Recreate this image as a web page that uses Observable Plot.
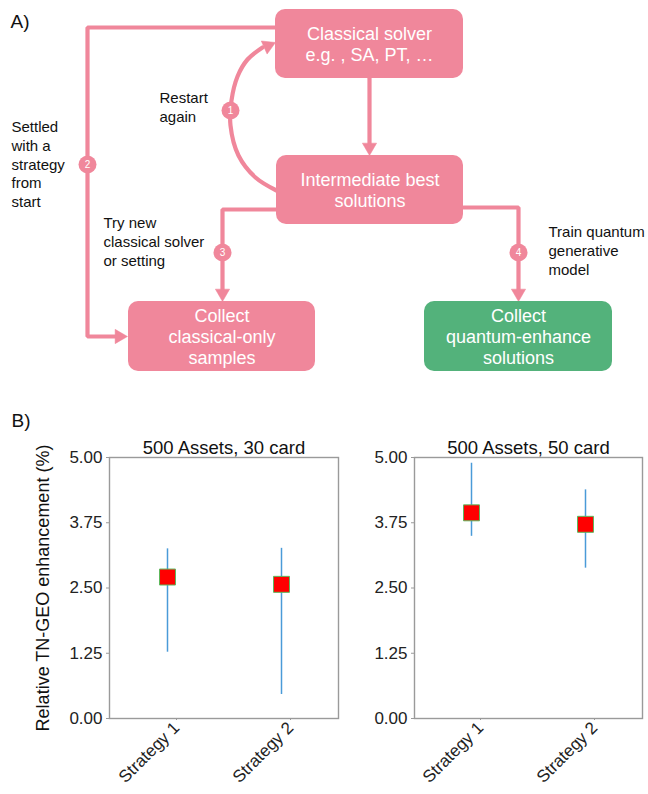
<!DOCTYPE html>
<html>
<head>
<meta charset="utf-8">
<script src="https://cdn.jsdelivr.net/npm/d3@7"></script>
<script src="https://cdn.jsdelivr.net/npm/@observablehq/plot@0.6"></script>
<style>
  body { margin: 0; background: white; }
  #page { position: relative; width: 648px; height: 794px; overflow: hidden; background: white; }
  #page svg { position: absolute; }
</style>
</head>
<body>
<div id="page"></div>
<script>
// ---------- Data (part B) ----------
const categories = ["Strategy 1", "Strategy 2"];
const panelTitles = ["500 Assets, 30 card", "500 Assets, 50 card"];
const mean30 = [2.71, 2.57];
const low30  = [1.27, 0.46];
const high30 = [3.25, 3.26];
const mean50 = [3.94, 3.72];
const low50  = [3.49, 2.88];
const high50 = [4.89, 4.38];
const yTicks = [0, 1.25, 2.5, 3.75, 5];
const yLabel = "Relative TN-GEO enhancement (%)";

// ---------- Texts (part A) ----------
const boxLabels = [
  "Classical solver\ne.g. , SA, PT, …",
  "Intermediate best\nsolutions",
  "Collect\nclassical-only\nsamples",
  "Collect\nquantum-enhance\nsolutions"
];
const noteLabels = [
  "Restart\nagain",
  "Settled\nwith a\nstrategy\nfrom\nstart",
  "Try new\nclassical solver\nor setting",
  "Train quantum\ngenerative\nmodel"
];
const badgeLabels = ["1", "2", "3", "4"];
const panelLetters = ["A)", "B)"];

// ---------- Styles / layout ----------
const FONT = "'Liberation Sans', Arial, Helvetica, sans-serif";
const PINK = "#f0879b";
const GREEN = "#53b27b";
const BLUE = "#4a9bd8";

const boxLayout = [
  {x1: 275, x2: 463, y1: 9,   y2: 78,  fill: PINK},
  {x1: 276, x2: 463, y1: 155, y2: 224, fill: PINK},
  {x1: 128, x2: 315, y1: 301, y2: 371, fill: PINK},
  {x1: 424, x2: 612, y1: 301, y2: 371, fill: GREEN}
];
const boxes = boxLabels.map((label, i) => ({label, ...boxLayout[i]}));

const noteLayout = [
  {x: 159, y: 121},
  {x: 11,  y: 206.5},
  {x: 103, y: 265},
  {x: 548, y: 274}
];
const notes = noteLabels.map((label, i) => ({label, ...noteLayout[i]}));

const badgeLayout = [
  {x: 230, y: 110},
  {x: 87,  y: 164},
  {x: 222, y: 252},
  {x: 518, y: 252}
];
const badges = badgeLabels.map((label, i) => ({label, ...badgeLayout[i]}));

const straightPaths = [
  {id: "p2", pts: [[275, 27], [87, 27], [87, 336], [118, 336]]},
  {id: "p0", pts: [[369, 78], [369, 146]]},
  {id: "p3", pts: [[276, 209], [222, 209], [222, 292]]},
  {id: "p4", pts: [[463, 207], [518, 207], [518, 292]]}
].flatMap(p => p.pts.map(([x, y]) => ({id: p.id, x, y})));

const curvePath = [[276, 190], [255, 177], [238, 155], [230, 125], [231, 100], [237, 76], [247, 59], [262, 47]]
  .map(([x, y]) => ({x, y}));

// arrow tips and their direction (degrees clockwise from "up")
const arrowTips = [
  {x: 127, y: 336, angle: 90},
  {x: 369, y: 155, angle: 180},
  {x: 222, y: 301, angle: 180},
  {x: 518, y: 301, angle: 180},
  {x: 275, y: 42,  angle: 66}
];
const TRI_R = 5.3;
const triOffset = 2 * Math.sqrt((Math.PI * TRI_R * TRI_R) / (3 * Math.sqrt(3)));
const arrowHeads = arrowTips.map(a => {
  const t = a.angle * Math.PI / 180;
  return {x: a.x - Math.sin(t) * triOffset, y: a.y + Math.cos(t) * triOffset, angle: a.angle};
});

const letters = [
  {label: panelLetters[0], x: 10, y: 27},
  {label: panelLetters[1], x: 11, y: 426}
];

const page = document.getElementById("page");

// ---------- Part A: diagram ----------
const diagram = Plot.plot({
  width: 648, height: 430, margin: 0,
  x: {domain: [0, 648], range: [0, 648], axis: null},
  y: {domain: [0, 430], range: [0, 430], axis: null},
  style: {fontFamily: FONT, background: "transparent", overflow: "visible"},
  marks: [
    Plot.line(straightPaths, {x: "x", y: "y", z: "id", stroke: PINK, strokeWidth: 4.2, strokeLinejoin: "miter"}),
    Plot.line(curvePath, {x: "x", y: "y", stroke: PINK, strokeWidth: 4.2, curve: "catmull-rom"}),
    Plot.dot(arrowHeads, {x: "x", y: "y", symbol: "triangle", r: TRI_R, rotate: "angle", fill: PINK, stroke: PINK, strokeWidth: 0.5}),
    Plot.rect(boxes, {x1: "x1", x2: "x2", y1: "y1", y2: "y2", fill: "fill", rx: 10}),
    Plot.text(boxes, {x: d => (d.x1 + d.x2) / 2, y: d => (d.y1 + d.y2) / 2, text: "label",
      fill: "white", fontSize: 18, lineHeight: 1.17}),
    Plot.dot(badges, {x: "x", y: "y", r: 9, fill: PINK}),
    Plot.text(badges, {x: "x", y: "y", text: "label", fill: "white", fontSize: 10}),
    Plot.text(notes, {x: "x", y: "y", text: "label", textAnchor: "start", lineAnchor: "bottom",
      fontSize: 15, lineHeight: 1.25, fill: "#111"}),
    Plot.text(letters, {x: "x", y: "y", text: "label", textAnchor: "start", lineAnchor: "bottom",
      fontSize: 19, fill: "#111"})
  ]
});
diagram.style.left = "0px";
diagram.style.top = "0px";
page.appendChild(diagram);

// ---------- Part B: panels ----------
function panel(title, means, lows, highs, {width, marginLeft, marginRight, withYLabel}) {
  const rows = categories.map((c, i) => ({cat: c, mean: means[i], lo: lows[i], hi: highs[i]}));
  const marks = [
    Plot.frame({stroke: "#9a9a9a", strokeWidth: 1.4}),
    Plot.axisY({ticks: yTicks, tickFormat: d => d.toFixed(2), tickSize: 3, tickPadding: 4,
      stroke: "#9a9a9a", fill: "#222", fontSize: 17, label: null}),
    Plot.axisX({tickRotate: -45, tickSize: 2, tickPadding: 4.5, dx: 9, stroke: "#9a9a9a",
      fill: "#222", fontSize: 17, label: null}),
    Plot.ruleX(rows, {x: "cat", y1: "lo", y2: "hi", stroke: BLUE, strokeWidth: 1.5}),
    Plot.dot(rows, {x: "cat", y: "mean", symbol: "square", r: 9, fill: "#ff0000", stroke: "#5cb85c", strokeWidth: 1}),
    Plot.text([title], {frameAnchor: "top", text: d => d, dy: -4, lineAnchor: "bottom", fontSize: 18.5, fill: "#111"})
  ];
  if (withYLabel) {
    marks.push(Plot.text([yLabel], {frameAnchor: "left", text: d => d, dx: -(marginLeft - 48), rotate: -90,
      textAnchor: "middle", lineAnchor: "bottom", fontSize: 18, fill: "#111"}));
  }
  return Plot.plot({
    width, height: 374, marginTop: 37, marginBottom: 76, marginLeft, marginRight,
    style: {fontFamily: FONT, background: "transparent", color: "#222", overflow: "visible"},
    x: {type: "point", domain: categories, padding: 0.5, label: null},
    y: {domain: [0, 5], label: null},
    marks
  });
}

const left = panel(panelTitles[0], mean30, low30, high30, {width: 345, marginLeft: 109, marginRight: 7, withYLabel: true});
left.style.left = "0px";
left.style.top = "420px";
page.appendChild(left);

const right = panel(panelTitles[1], mean50, low50, high50, {width: 303, marginLeft: 69, marginRight: 6, withYLabel: false});
right.style.left = "345px";
right.style.top = "420px";
page.appendChild(right);
</script>
</body>
</html>
